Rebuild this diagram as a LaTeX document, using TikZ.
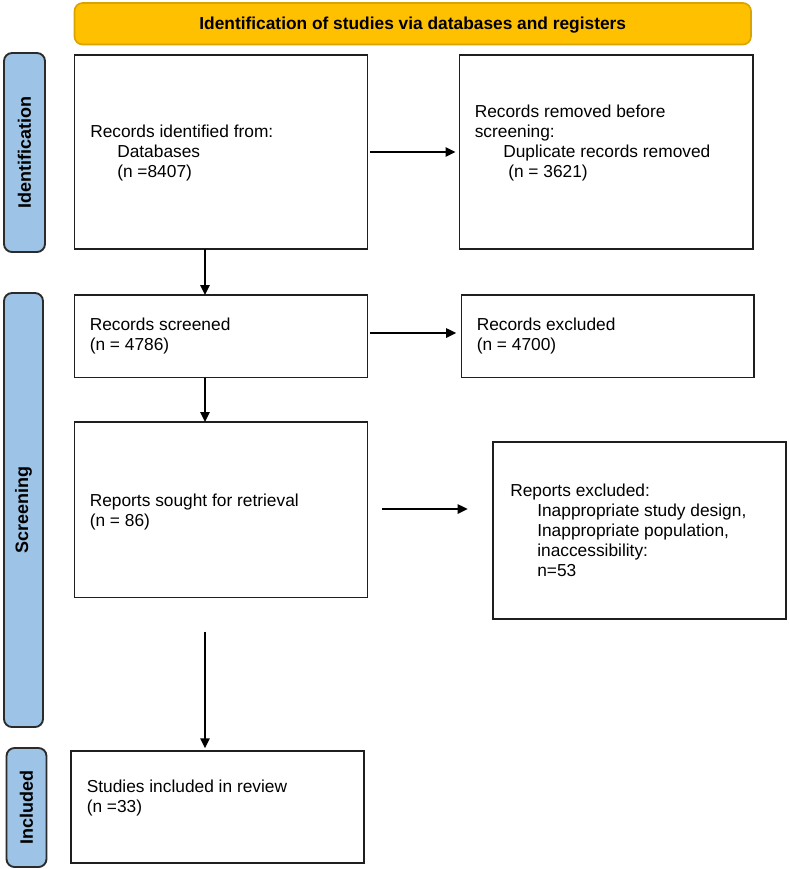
\documentclass[tikz,border=0pt]{standalone}
\usepackage{fontspec}
\setmainfont{Liberation Sans}
\usetikzlibrary{arrows.meta,calc,fit}
\definecolor{hdrfill}{HTML}{FFC000}
\definecolor{hdrline}{HTML}{D9A300}
\definecolor{sidefill}{HTML}{9DC3E6}
\definecolor{sideline}{HTML}{2B2B2B}
\begin{document}
\begin{tikzpicture}[x=0.75pt,y=-0.75pt,
  box/.style={draw=black!88,line width=1.4pt,fill=white,inner sep=0pt,outer sep=0pt},
  hdrbox/.style={draw=hdrline,line width=1.2pt,fill=hdrfill,rounded corners=6pt,inner sep=0pt,outer sep=0pt},
  sidebox/.style={draw=sideline,line width=1.4pt,fill=sidefill,rounded corners=6pt,inner sep=0pt,outer sep=0pt},
  sidelabel/.style={rotate=90,font=\fontsize{13.5}{15}\selectfont\bfseries,inner sep=0pt},
  txt/.style={anchor=base west,inner sep=0pt,font=\fontsize{13}{15}\selectfont},
  arr/.style={draw=black,line width=1.3pt,-{Triangle[length=7.5pt,width=7pt]}}]
\useasboundingbox (0,0) rectangle (789,869);
% header
\node[hdrbox,fit={(74.5,3) (751,44.5)}] (hdr) {};
\node[inner sep=0pt,font=\fontsize{13}{15}\selectfont\bfseries] (hdrtxt) at ($(hdr.center)+(0,1)$) {Identification of studies via databases and registers};
% side bars
\node[sidebox,fit={(4,53) (45,252)}] (side1) {};
\node[sidelabel] (side1t) at (side1.center) {Identification};
\node[sidebox,fit={(4,293) (43,727)}] (side2) {};
\node[sidelabel] (side2t) at (side2.center) {Screening};
\node[sidebox,fit={(6.5,748) (46.5,867)}] (side3) {};
\node[sidelabel] (side3t) at (side3.center) {Included};
% boxes
\node[box,fit={(74.5,55) (367.5,249)}] (b1) {};
\node[box,fit={(459.5,55) (753,249)}] (b2) {};
\node[box,fit={(74.5,295) (367.5,377.5)}] (b3) {};
\node[box,fit={(461.5,295) (754,377.5)}] (b4) {};
\node[box,fit={(74.5,422) (367.5,597.5)}] (b5) {};
\node[box,fit={(493,442) (786,619)}] (b6) {};
\node[box,fit={(71,751) (364,863)}] (b7) {};
% texts
\node[txt] (t1a) at (90,137) {Records identified from:};
\node[txt] (t1b) at (117,157.5) {Databases};
\node[txt] (t1c) at (117,177.5) {(n =8407)};
\node[txt] (t2a) at (474.5,117) {Records removed before};
\node[txt] (t2b) at (474.5,137) {screening:};
\node[txt] (t2c) at (503,157.5) {Duplicate records removed};
\node[txt] (t2d) at (508,177.5) {(n = 3621)};
\node[txt] (t3a) at (89.5,330.5) {Records screened};
\node[txt] (t3b) at (89.5,350.5) {(n = 4786)};
\node[txt] (t4a) at (476.5,330.5) {Records excluded};
\node[txt] (t4b) at (476.5,350.5) {(n = 4700)};
\node[txt] (t5a) at (89.5,506) {Reports sought for retrieval};
\node[txt] (t5b) at (89.5,526) {(n = 86)};
\node[txt] (t6a) at (510,496) {Reports excluded:};
\node[txt] (t6b) at (537,516) {Inappropriate study design,};
\node[txt] (t6c) at (537,536.5) {Inappropriate population,};
\node[txt] (t6d) at (537,556.5) {inaccessibility:};
\node[txt] (t6e) at (537,576.5) {n=53};
\node[txt] (t7a) at (86.5,792.5) {Studies included in review};
\node[txt] (t7b) at (86.5,812.5) {(n =33)};
% column coordinates
\coordinate (colx) at (205,0);
\coordinate (row1) at (0,152);
\coordinate (row3) at (0,333);
\coordinate (row5) at (0,509);
% connectors
\draw[arr,shorten <=2pt,shorten >=3pt] (b1.east |- row1) -- (b2.west |- row1);
\draw[arr,shorten <=2pt,shorten >=4pt] (b3.east |- row3) -- (b4.west |- row3);
\draw[arr,shorten <=11pt,shorten >=19pt] (b5.east |- row5) -- (b6.west |- row5);
\draw[arr] (b1.south -| colx) -- (b3.north -| colx);
\draw[arr] (b3.south -| colx) -- (b5.north -| colx);
\draw[arr,shorten <=25.5pt,shorten >=2pt] (b5.south -| colx) -- (b7.north -| colx);
\end{tikzpicture}
\end{document}
